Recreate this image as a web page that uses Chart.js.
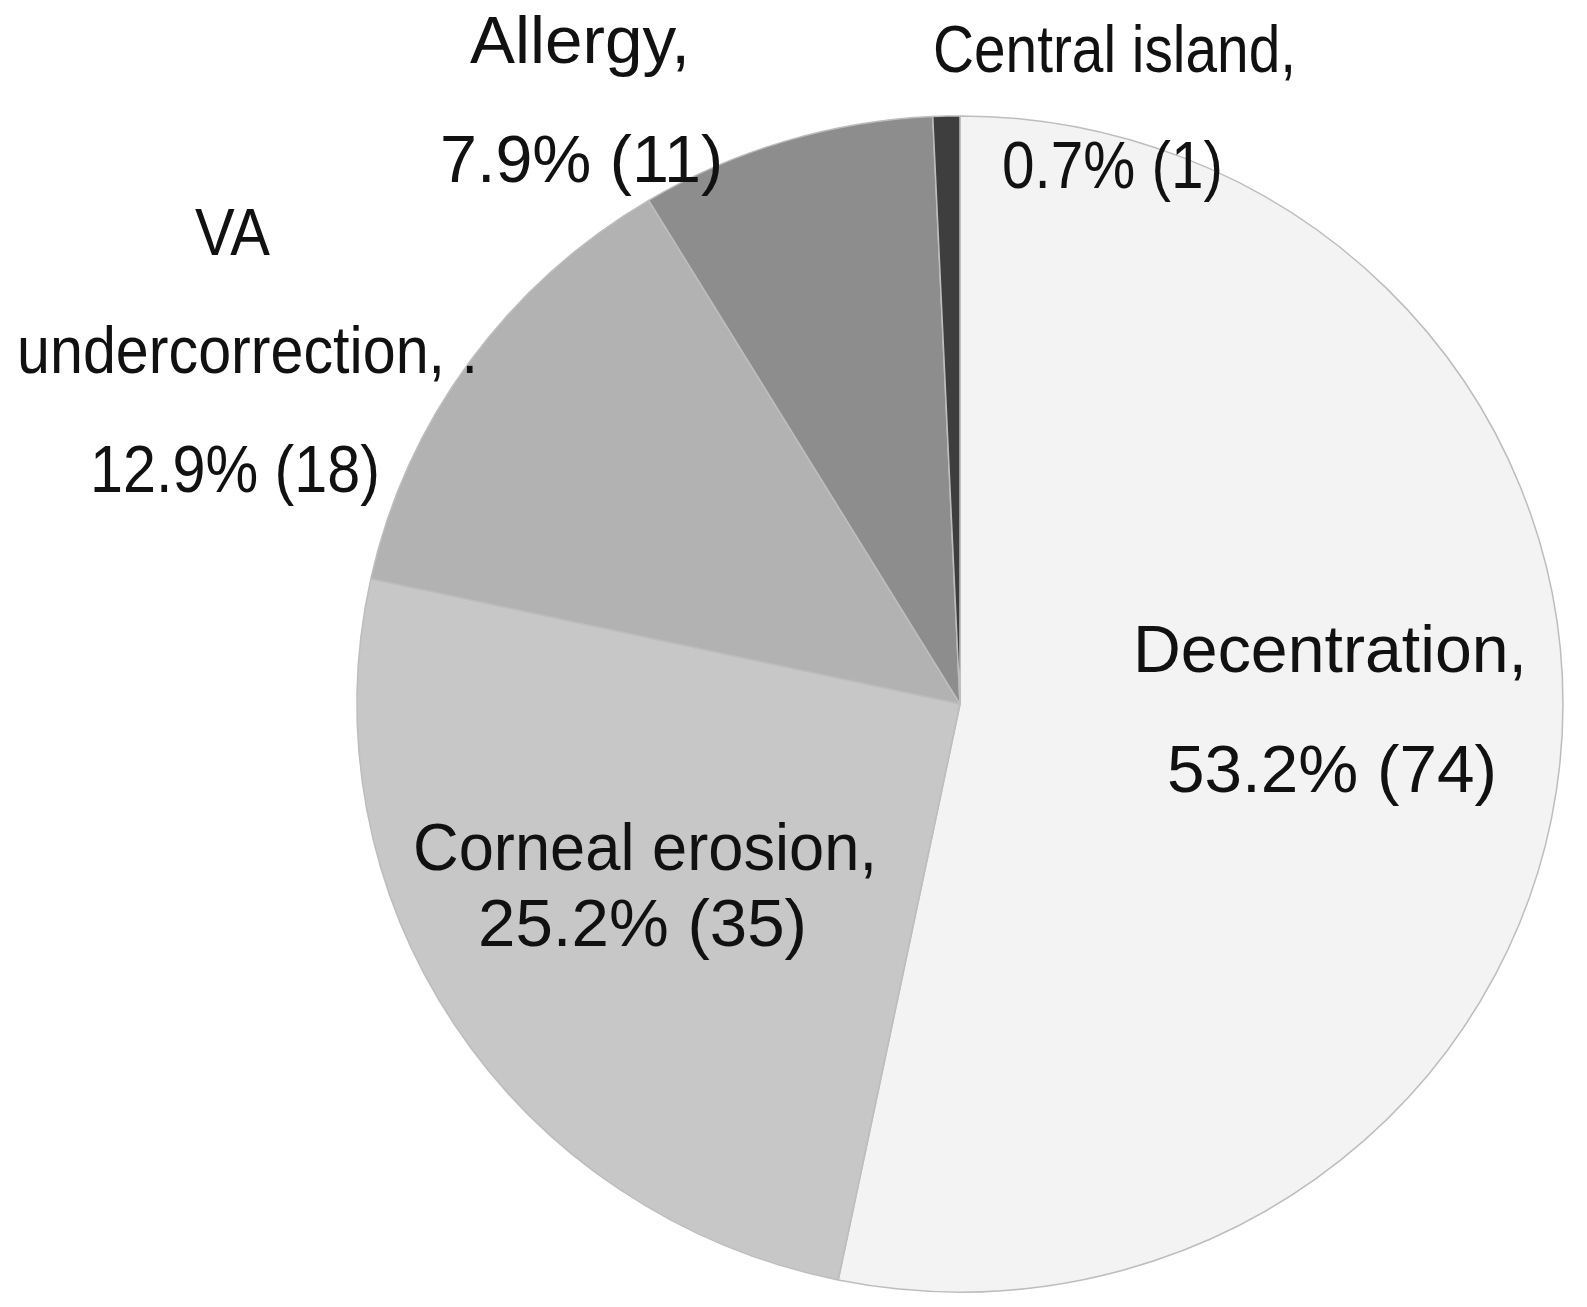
<!DOCTYPE html>
<html>
<head>
<meta charset="utf-8">
<script src="https://cdn.jsdelivr.net/npm/chart.js@4/dist/chart.umd.min.js"></script>
<style>
  html, body { margin: 0; padding: 0; background: #ffffff; }
  #wrap { width: 1587px; height: 1307px; }
</style>
</head>
<body>
<div id="wrap"><canvas id="c" width="1587" height="1307"></canvas></div>
<script>
// ---- data ----
const categories = ["Decentration", "Corneal erosion", "VA undercorrection", "Allergy", "Central island"];
const counts = [74, 35, 18, 11, 1];
const percents = ["53.2%", "25.2%", "12.9%", "7.9%", "0.7%"];
const sliceColors = ["#f3f3f3", "#c7c7c7", "#b2b2b2", "#8d8d8d", "#3e3e3e"];

// label layout (offsets from pie centre, text left x / baseline y, target width)
const labelLayout = [
  { lines: [["Decentration,", 173, -32, 394], ["53.2% (74)", 207, 88, 330]] },
  { lines: [["Corneal erosion,", -547, 166, 464], ["25.2% (35)", -482, 242, 329]] },
  { lines: [["VA", -765, -449, 75], ["undercorrection, .", -943, -331, 461], ["12.9% (18)", -870, -212, 290]] },
  { lines: [["Allergy,", -490, -641, 220], ["7.9% (11)", -520, -522, 283]] },
  { lines: [["Central island,", -27, -632, 363], ["0.7% (1)", 42, -516, 221]] }
];

// slight horizontal/vertical stretch of the pie, as in the reference
const pieStretch = { x: 1.013, y: 0.988 };

const labelPlugin = {
  id: 'sliceLabels',
  beforeDatasetsDraw(chart) {
    const ctx = chart.ctx;
    const arc = chart.getDatasetMeta(0).data[0];
    ctx.save();
    ctx.translate(arc.x, arc.y);
    ctx.scale(pieStretch.x, pieStretch.y);
    ctx.translate(-arc.x, -arc.y);
  },
  afterDatasetsDraw(chart) {
    const ctx = chart.ctx;
    ctx.restore();
    const arc = chart.getDatasetMeta(0).data[0];
    const cx = arc.x, cy = arc.y;
    ctx.save();
    ctx.fillStyle = '#111111';
    ctx.font = '67px "Liberation Sans", Arial, sans-serif';
    ctx.textBaseline = 'alphabetic';
    ctx.textAlign = 'left';
    labelLayout.forEach((lab) => {
      lab.lines.forEach(([txt, dx, dy, w]) => {
        const nat = ctx.measureText(txt).width;
        const sx = w / nat;
        ctx.save();
        ctx.translate(cx + dx, cy + dy);
        ctx.scale(sx, 1);
        ctx.fillText(txt, 0, 0);
        ctx.restore();
      });
    });
    ctx.restore();
  }
};

new Chart(document.getElementById('c'), {
  type: 'pie',
  data: {
    labels: categories,
    datasets: [{
      data: counts,
      backgroundColor: sliceColors,
      borderColor: '#bdbdbd',
      borderWidth: 1.5
    }]
  },
  options: {
    responsive: false,
    animation: false,
    rotation: 0,
    layout: { padding: { left: 364, right: 31, top: 108, bottom: 7 } },
    plugins: {
      legend: { display: false },
      tooltip: { enabled: false }
    }
  },
  plugins: [labelPlugin]
});
</script>
</body>
</html>
